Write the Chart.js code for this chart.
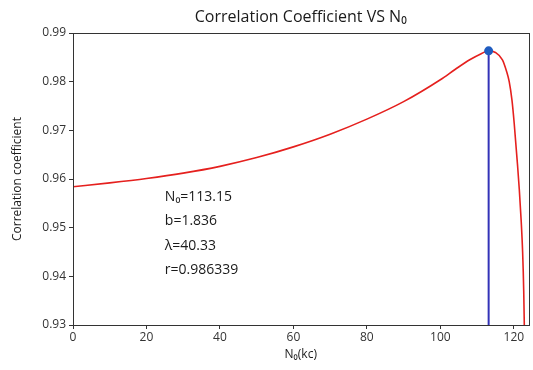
<!DOCTYPE html>
<html>
<head>
<meta charset="utf-8">
<script src="https://cdn.jsdelivr.net/npm/chart.js@4/dist/chart.umd.min.js"></script>
<style>
  html, body { margin: 0; padding: 0; background: #fff; }
  #wrap { width: 533px; height: 370px; }
</style>
</head>
<body>
<div id="wrap"><canvas id="c" width="533" height="370"></canvas></div>
<script>
// Data
const curveX = [0, 10, 20, 30, 40, 50, 60, 70, 80, 90, 100, 104, 108, 111, 113.15, 115, 116.9, 118, 118.75, 119.5, 120.1, 121, 121.5, 122, 122.4, 122.7, 122.9];
const curveY = [0.9584, 0.9592, 0.9601, 0.9612, 0.9626, 0.9644, 0.9666, 0.9692, 0.9723, 0.9759, 0.9804, 0.9825, 0.9845, 0.9857, 0.98634, 0.9860, 0.9845, 0.9822, 0.9800, 0.9762, 0.9715, 0.9630, 0.9578, 0.9515, 0.9450, 0.9370, 0.9280];
const peakX = 113.15;
const peakY = 0.986339;
const yBottom = 0.93;
const xTicks = [0, 20, 40, 60, 80, 100, 120];
const yTicks = [0.93, 0.94, 0.95, 0.96, 0.97, 0.98, 0.99];
const titleText = "Correlation Coefficient VS N\u2080";
const annotation = ["N\u2080=113.15", "b=1.836", "\u03bb=40.33", "r=0.986339"];

const FONT = "'Open Sans', 'DejaVu Sans', sans-serif";
const AXIS = '#333333';
const TEXT = '#1a1a1a';

const boxPlugin = {
  id: 'box',
  afterDatasetsDraw(chart) {
    const { ctx, chartArea: a } = chart;
    ctx.save();
    ctx.strokeStyle = AXIS;
    ctx.lineWidth = 1;
    ctx.strokeRect(Math.round(a.left) + 0.5, Math.round(a.top) + 0.5, Math.round(a.right - a.left), Math.round(a.bottom - a.top));
    // title centred over the plot area
    ctx.fillStyle = TEXT;
    ctx.textAlign = 'center';
    ctx.textBaseline = 'middle';
    ctx.font = "16px " + FONT;
    ctx.fillText(titleText, (a.left + a.right) / 2, 17);
    // annotation text
    const xs = chart.scales.x, ys = chart.scales.y;
    ctx.textAlign = 'left';
    ctx.font = "14px " + FONT;
    const x0 = xs.getPixelForValue(25);
    const yStart = ys.getPixelForValue(0.9564);
    annotation.forEach((t, i) => ctx.fillText(t, x0, yStart + i * 24.6));
    ctx.restore();
  }
};

new Chart(document.getElementById('c'), {
  type: 'scatter',
  data: {
    datasets: [
      {
        data: curveX.map((x, i) => ({ x, y: curveY[i] })),
        showLine: true,
        borderColor: '#e5201e',
        borderWidth: 1.6,
        pointRadius: 0,
        cubicInterpolationMode: 'monotone',
        order: 2
      },
      {
        data: [{ x: peakX, y: yBottom }, { x: peakX, y: peakY }],
        showLine: true,
        borderColor: '#3232b8',
        borderWidth: 2,
        pointRadius: 0,
        order: 1
      },
      {
        data: [{ x: peakX, y: peakY }],
        pointRadius: 4.5,
        pointBackgroundColor: '#1f5cc0',
        pointBorderColor: '#1f5cc0',
        borderWidth: 0,
        order: 0
      }
    ]
  },
  options: {
    responsive: false,
    animation: false,
    layout: { padding: { top: 33, right: 3, bottom: 8, left: 10 } },
    plugins: {
      legend: { display: false },
      tooltip: { enabled: false },
      title: { display: false }
    },
    scales: {
      x: {
        type: 'linear',
        min: 0,
        max: 124,
        afterBuildTicks: s => { s.ticks = xTicks.map(v => ({ value: v })); },
        afterFit: s => { s.height = 37; },
        ticks: { color: AXIS, font: { family: FONT, size: 12 }, padding: 1, callback: v => v },
        grid: { display: true, drawOnChartArea: false, tickLength: 4, color: AXIS },
        border: { display: true, color: AXIS },
        title: { display: true, text: 'N\u2080(kc)', color: TEXT, font: { family: FONT, size: 12 }, padding: { top: 0, bottom: 0 } }
      },
      y: {
        type: 'linear',
        min: 0.93,
        max: 0.99,
        afterBuildTicks: s => { s.ticks = yTicks.map(v => ({ value: v })); },
        afterFit: s => { s.width = 63; },
        ticks: { color: AXIS, font: { family: FONT, size: 12 }, padding: 3, callback: v => v.toFixed(2) },
        grid: { display: true, drawOnChartArea: false, tickLength: 4, color: AXIS },
        border: { display: true, color: AXIS },
        title: { display: true, text: 'Correlation coefficient', color: TEXT, font: { family: FONT, size: 12 }, padding: { top: 0, bottom: 0 } }
      }
    }
  },
  plugins: [boxPlugin]
});
</script>
</body>
</html>
